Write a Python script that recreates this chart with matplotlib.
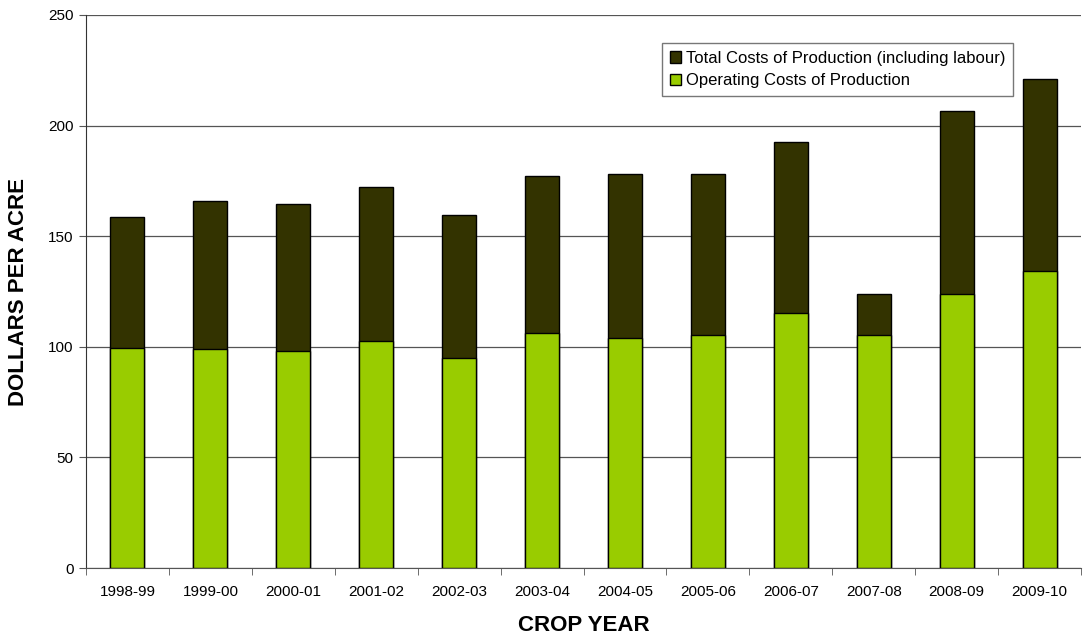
import matplotlib
matplotlib.use("Agg")
import matplotlib.pyplot as plt
import numpy as np

plt.rcParams['font.family'] = ['Liberation Sans', 'DejaVu Sans']

# crop years and costs (dollars per acre)
years = ["1998-99", "1999-00", "2000-01", "2001-02", "2002-03", "2003-04",
         "2004-05", "2005-06", "2006-07", "2007-08", "2008-09", "2009-10"]
total_costs = [158.9, 166.1, 164.4, 172.3, 159.4, 177.1, 177.9, 178.2, 192.4, 124.0, 206.8, 221.0]
operating_costs = [99.3, 98.9, 98.3, 102.4, 95.0, 106.3, 103.9, 105.5, 115.1, 105.5, 123.8, 134.1]

fig = plt.figure(figsize=(10.83, 6.4), dpi=100)
ax = fig.add_axes([86 / 1083, 1 - 568 / 640, 995 / 1083, 553 / 640])

x = np.arange(len(years))
w = 0.41
ax.bar(x, total_costs, w, color="#333300", edgecolor="black", linewidth=1,
       label="Total Costs of Production (including labour)", zorder=3)
ax.bar(x, operating_costs, w, color="#99CC00", edgecolor="black", linewidth=1,
       label="Operating Costs of Production", zorder=4)

ax.set_xlim(-0.5, len(years) - 0.5)
ax.set_ylim(0, 250)
ax.set_yticks(np.arange(0, 251, 50))
ax.yaxis.grid(True, color="#555555", linewidth=0.9, zorder=0)
ax.set_axisbelow(True)

ax.set_xticks(x)
ax.set_xticklabels(years, fontsize=11)
ax.tick_params(axis="x", length=0, pad=12)
ax.set_xticks(np.arange(-0.5, len(years)), minor=True)
ax.tick_params(axis="x", which="minor", length=5, direction="out", color="#555555")
ax.tick_params(axis="y", labelsize=11, length=5, color="#555555", direction="out", pad=4)

for s in ["top", "right"]:
    ax.spines[s].set_visible(False)
ax.spines["left"].set_color("#333333")
ax.spines["bottom"].set_color("#555555")

ax.set_xlabel("CROP YEAR", fontsize=16, fontweight="bold", labelpad=12)
ax.set_ylabel("DOLLARS PER ACRE", fontsize=16, fontweight="bold", labelpad=14)

leg = ax.legend(loc="upper right", bbox_to_anchor=(0.932, 0.949),
                fontsize=12, frameon=True, fancybox=False, edgecolor="#555555",
                handlelength=0.7, handleheight=0.7, handletextpad=0.3,
                borderpad=0.45, labelspacing=0.45, borderaxespad=0)
leg.get_frame().set_linewidth(1)

fig.savefig("out.png", dpi=100)
